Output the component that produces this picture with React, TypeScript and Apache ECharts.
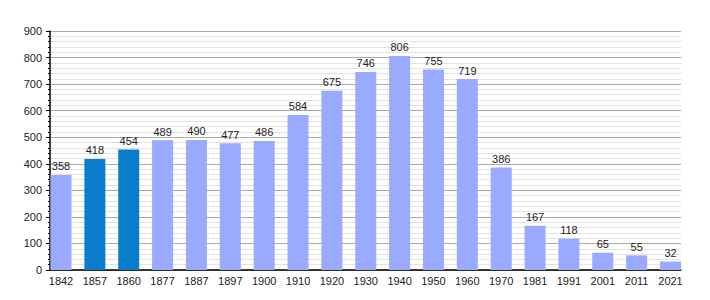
import React, { useEffect, useRef } from "react";
import * as echarts from "echarts";

const years = ["1842", "1857", "1860", "1877", "1887", "1897", "1900", "1910", "1920", "1930", "1940", "1950", "1960", "1970", "1981", "1991", "2001", "2011", "2021"];
const population = [358, 418, 454, 489, 490, 477, 486, 584, 675, 746, 806, 755, 719, 386, 167, 118, 65, 55, 32];
const highlighted = ["1857", "1860"];

const LIGHT = "#99aaff";
const DARK = "#0a7ccc";
const FONT = "Liberation Sans, Arial, sans-serif";

export default function App() {
  const ref = useRef<HTMLDivElement>(null);
  useEffect(() => {
    if (!ref.current) return;
    const chart = echarts.init(ref.current, undefined, { renderer: "svg" });
    chart.setOption({
      animation: false,
      backgroundColor: "#ffffff",
      textStyle: { fontFamily: FONT },
      grid: [
        { left: 50, right: 29, top: 31, bottom: 30 },
        { left: 61, right: 39.5, top: 31, bottom: 30 },
      ],
      xAxis: [
        {
          gridIndex: 0,
          type: "value",
          min: 0,
          max: 1,
          axisLine: { show: true, onZero: false, lineStyle: { color: "#000", width: 1.5 } },
          axisTick: { show: false },
          axisLabel: { show: false },
          splitLine: { show: false },
        },
        {
          gridIndex: 1,
          type: "category",
          boundaryGap: false,
          data: years,
          axisLine: { show: false },
          axisTick: { show: false },
          axisLabel: { color: "#222", fontSize: 11, margin: 5, interval: 0, fontFamily: FONT },
          splitLine: { show: false },
        },
      ],
      yAxis: [
        {
          gridIndex: 0,
          type: "value",
          min: 0,
          max: 900,
          interval: 100,
          axisLine: { show: true, lineStyle: { color: "#000", width: 1.5 } },
          axisTick: { show: true, length: 4, lineStyle: { color: "#000" } },
          minorTick: { show: true, splitNumber: 5, length: 2, lineStyle: { color: "#000" } },
          axisLabel: { color: "#222", fontSize: 11, margin: 8, fontFamily: FONT },
          splitLine: { show: true, lineStyle: { color: "#aaaaaa", width: 1 } },
          minorSplitLine: { show: true, lineStyle: { color: "#e2e2e2", width: 1 } },
        },
        {
          gridIndex: 1,
          type: "value",
          min: 0,
          max: 900,
          show: false,
          splitLine: { show: false },
        },
      ],
      series: [
        {
          type: "bar",
          xAxisIndex: 1,
          yAxisIndex: 1,
          barWidth: 21,
          data: population.map((v, i) => ({
            value: v,
            itemStyle: { color: highlighted.includes(years[i]) ? DARK : LIGHT },
          })),
          label: {
            show: true,
            position: "top",
            distance: 3,
            color: "#222",
            fontSize: 11,
            fontFamily: FONT,
          },
        },
      ],
    });
    return () => chart.dispose();
  }, []);
  return (
    <div
      ref={ref}
      style={{ position: "fixed", left: 0, top: 0, width: 710, height: 300 }}
    />
  );
}
